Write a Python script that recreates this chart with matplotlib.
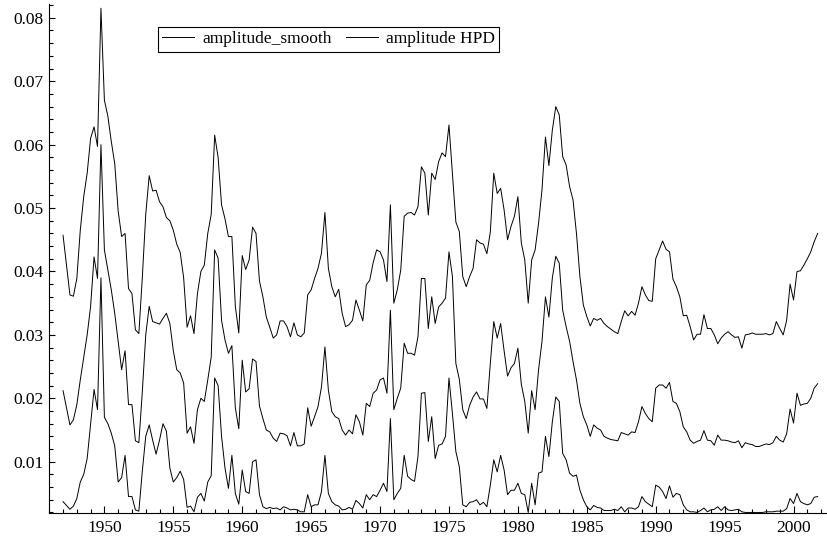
import matplotlib
matplotlib.use("Agg")
import matplotlib.pyplot as plt
from matplotlib.ticker import MultipleLocator, FormatStrFormatter
import numpy as np

plt.rcParams['font.family'] = ['Liberation Serif', 'DejaVu Serif']
plt.rcParams['font.size'] = 12.5

# quarterly series, 1947Q1 .. 2001Q4
start_year = 1947
per_year = 4

# upper HPD band
hpd_upper = [
    0.0457, 0.0410, 0.0363, 0.0361, 0.0389, 0.0465, 0.0518, 0.0555, 0.0610, 0.0628,
    0.0597, 0.0815, 0.0670, 0.0645, 0.0605, 0.0570, 0.0495, 0.0455, 0.0460, 0.0373,
    0.0365, 0.0308, 0.0302, 0.0390, 0.0490, 0.0551, 0.0527, 0.0528, 0.0510, 0.0502,
    0.0485, 0.0480, 0.0465, 0.0443, 0.0430, 0.0390, 0.0312, 0.0330, 0.0302, 0.0365,
    0.0400, 0.0410, 0.0460, 0.0490, 0.0615, 0.0580, 0.0505, 0.0483, 0.0455, 0.0455,
    0.0345, 0.0303, 0.0425, 0.0403, 0.0418, 0.0470, 0.0460, 0.0385, 0.0360, 0.0328,
    0.0312, 0.0295, 0.0300, 0.0322, 0.0322, 0.0313, 0.0297, 0.0319, 0.0300, 0.0297,
    0.0303, 0.0363, 0.0371, 0.0389, 0.0405, 0.0429, 0.0493, 0.0405, 0.0376, 0.0360,
    0.0372, 0.0334, 0.0313, 0.0316, 0.0323, 0.0355, 0.0339, 0.0322, 0.0379, 0.0386,
    0.0414, 0.0434, 0.0431, 0.0418, 0.0384, 0.0505, 0.0350, 0.0371, 0.0402, 0.0487,
    0.0492, 0.0493, 0.0489, 0.0502, 0.0565, 0.0555, 0.0489, 0.0555, 0.0545, 0.0573,
    0.0587, 0.0581, 0.0631, 0.0555, 0.0478, 0.0463, 0.0392, 0.0376, 0.0392, 0.0405,
    0.0450, 0.0445, 0.0443, 0.0428, 0.0462, 0.0555, 0.0523, 0.0531, 0.0497, 0.0450,
    0.0471, 0.0487, 0.0518, 0.0445, 0.0418, 0.0350, 0.0418, 0.0434, 0.0476, 0.0529,
    0.0612, 0.0567, 0.0623, 0.0660, 0.0647, 0.0581, 0.0568, 0.0534, 0.0513, 0.0460,
    0.0392, 0.0347, 0.0329, 0.0314, 0.0326, 0.0323, 0.0326, 0.0318, 0.0313, 0.0309,
    0.0305, 0.0302, 0.0321, 0.0338, 0.0330, 0.0337, 0.0331, 0.0350, 0.0376, 0.0363,
    0.0354, 0.0353, 0.0420, 0.0434, 0.0448, 0.0435, 0.0431, 0.0388, 0.0376, 0.0360,
    0.0330, 0.0331, 0.0313, 0.0292, 0.0301, 0.0301, 0.0332, 0.0310, 0.0310, 0.0300,
    0.0286, 0.0295, 0.0301, 0.0305, 0.0300, 0.0296, 0.0297, 0.0279, 0.0300, 0.0301,
    0.0303, 0.0301, 0.0301, 0.0301, 0.0302, 0.0300, 0.0302, 0.0321, 0.0310, 0.0300,
    0.0323, 0.0380, 0.0355, 0.0400, 0.0401, 0.0410, 0.0420, 0.0431, 0.0447, 0.0460,
]

# smoothed amplitude
amp_smooth = [
    0.0212, 0.0185, 0.0158, 0.0166, 0.0190, 0.0229, 0.0265, 0.0300, 0.0345, 0.0423,
    0.0389, 0.0600, 0.0434, 0.0402, 0.0371, 0.0334, 0.0290, 0.0245, 0.0275, 0.0190,
    0.0190, 0.0133, 0.0130, 0.0210, 0.0300, 0.0345, 0.0321, 0.0319, 0.0317, 0.0326,
    0.0334, 0.0318, 0.0275, 0.0245, 0.0240, 0.0224, 0.0145, 0.0155, 0.0129, 0.0182,
    0.0200, 0.0195, 0.0229, 0.0265, 0.0434, 0.0421, 0.0323, 0.0292, 0.0271, 0.0283,
    0.0185, 0.0152, 0.0260, 0.0210, 0.0215, 0.0262, 0.0258, 0.0188, 0.0168, 0.0150,
    0.0147, 0.0137, 0.0132, 0.0145, 0.0144, 0.0141, 0.0125, 0.0146, 0.0125, 0.0125,
    0.0128, 0.0185, 0.0156, 0.0171, 0.0187, 0.0218, 0.0281, 0.0213, 0.0179, 0.0171,
    0.0168, 0.0150, 0.0142, 0.0150, 0.0144, 0.0174, 0.0163, 0.0142, 0.0192, 0.0187,
    0.0208, 0.0213, 0.0229, 0.0232, 0.0208, 0.0339, 0.0182, 0.0200, 0.0216, 0.0287,
    0.0271, 0.0271, 0.0268, 0.0297, 0.0389, 0.0389, 0.0310, 0.0360, 0.0318, 0.0344,
    0.0350, 0.0358, 0.0431, 0.0392, 0.0255, 0.0230, 0.0182, 0.0168, 0.0189, 0.0202,
    0.0210, 0.0199, 0.0199, 0.0184, 0.0255, 0.0321, 0.0295, 0.0318, 0.0275, 0.0235,
    0.0248, 0.0255, 0.0279, 0.0222, 0.0195, 0.0145, 0.0212, 0.0182, 0.0245, 0.0290,
    0.0360, 0.0328, 0.0390, 0.0424, 0.0413, 0.0339, 0.0313, 0.0290, 0.0258, 0.0229,
    0.0192, 0.0171, 0.0158, 0.0140, 0.0158, 0.0153, 0.0150, 0.0140, 0.0137, 0.0135,
    0.0134, 0.0133, 0.0146, 0.0144, 0.0142, 0.0147, 0.0146, 0.0163, 0.0187, 0.0176,
    0.0168, 0.0163, 0.0216, 0.0221, 0.0221, 0.0216, 0.0225, 0.0195, 0.0192, 0.0179,
    0.0155, 0.0147, 0.0134, 0.0129, 0.0132, 0.0134, 0.0149, 0.0134, 0.0133, 0.0126,
    0.0142, 0.0134, 0.0134, 0.0133, 0.0131, 0.0130, 0.0133, 0.0122, 0.0130, 0.0128,
    0.0127, 0.0124, 0.0124, 0.0126, 0.0128, 0.0127, 0.0130, 0.0140, 0.0134, 0.0131,
    0.0144, 0.0183, 0.0161, 0.0208, 0.0189, 0.0191, 0.0192, 0.0200, 0.0216, 0.0223,
]

# lower HPD band
hpd_lower = [
    0.0037, 0.0031, 0.0025, 0.0030, 0.0042, 0.0068, 0.0080, 0.0105, 0.0160, 0.0214,
    0.0182, 0.0390, 0.0170, 0.0160, 0.0145, 0.0125, 0.0068, 0.0075, 0.0110, 0.0045,
    0.0045, 0.0024, 0.0022, 0.0085, 0.0140, 0.0158, 0.0134, 0.0112, 0.0134, 0.0160,
    0.0148, 0.0090, 0.0068, 0.0075, 0.0085, 0.0072, 0.0028, 0.0030, 0.0021, 0.0044,
    0.0050, 0.0038, 0.0068, 0.0078, 0.0232, 0.0220, 0.0140, 0.0090, 0.0058, 0.0110,
    0.0050, 0.0033, 0.0087, 0.0053, 0.0050, 0.0100, 0.0103, 0.0048, 0.0029, 0.0026,
    0.0028, 0.0026, 0.0027, 0.0024, 0.0029, 0.0027, 0.0024, 0.0025, 0.0024, 0.0021,
    0.0021, 0.0048, 0.0029, 0.0032, 0.0032, 0.0053, 0.0110, 0.0050, 0.0037, 0.0032,
    0.0030, 0.0024, 0.0025, 0.0028, 0.0025, 0.0039, 0.0034, 0.0027, 0.0048, 0.0040,
    0.0048, 0.0045, 0.0055, 0.0066, 0.0053, 0.0168, 0.0040, 0.0050, 0.0058, 0.0110,
    0.0077, 0.0072, 0.0069, 0.0108, 0.0208, 0.0209, 0.0132, 0.0171, 0.0105, 0.0126,
    0.0128, 0.0140, 0.0232, 0.0176, 0.0116, 0.0092, 0.0032, 0.0029, 0.0036, 0.0037,
    0.0040, 0.0032, 0.0036, 0.0029, 0.0063, 0.0103, 0.0084, 0.0110, 0.0087, 0.0048,
    0.0055, 0.0055, 0.0066, 0.0050, 0.0048, 0.0020, 0.0066, 0.0032, 0.0082, 0.0084,
    0.0140, 0.0108, 0.0163, 0.0202, 0.0195, 0.0113, 0.0103, 0.0082, 0.0077, 0.0079,
    0.0055, 0.0040, 0.0029, 0.0024, 0.0031, 0.0028, 0.0027, 0.0023, 0.0023, 0.0023,
    0.0025, 0.0023, 0.0029, 0.0021, 0.0027, 0.0027, 0.0025, 0.0029, 0.0045, 0.0037,
    0.0033, 0.0029, 0.0063, 0.0060, 0.0053, 0.0042, 0.0062, 0.0044, 0.0050, 0.0048,
    0.0032, 0.0024, 0.0021, 0.0021, 0.0020, 0.0023, 0.0027, 0.0021, 0.0024, 0.0025,
    0.0029, 0.0023, 0.0029, 0.0024, 0.0023, 0.0024, 0.0025, 0.0021, 0.0020, 0.0020,
    0.0020, 0.0020, 0.0020, 0.0020, 0.0021, 0.0021, 0.0021, 0.0022, 0.0022, 0.0022,
    0.0026, 0.0042, 0.0034, 0.0050, 0.0037, 0.0034, 0.0032, 0.0034, 0.0044, 0.0045,
]

n = len(amp_smooth)
t = start_year + np.arange(n) / per_year

fig = plt.figure(figsize=(8.28, 5.39), dpi=100)
ax = fig.add_axes([0.0595, 0.0488, 0.9405, 0.9429])

ax.plot(t, amp_smooth, color='black', lw=0.7, label='amplitude_smooth')
ax.plot(t, hpd_upper, color='black', lw=0.7, label='amplitude HPD')
ax.plot(t, hpd_lower, color='black', lw=0.7)

ax.set_xlim(1946.0, 2002.5)
ax.set_ylim(0.00196, 0.0821)

ax.xaxis.set_major_locator(MultipleLocator(5))
ax.xaxis.set_minor_locator(MultipleLocator(1))
ax.yaxis.set_major_locator(MultipleLocator(0.01))
ax.yaxis.set_minor_locator(MultipleLocator(0.002))
ax.yaxis.set_major_formatter(FormatStrFormatter('%.2f'))

ax.spines['top'].set_visible(False)
ax.spines['right'].set_visible(False)
for s in ('left', 'bottom'):
    ax.spines[s].set_linewidth(0.8)

ax.tick_params(which='both', direction='in', top=False, right=False, width=0.8, color='black')
ax.tick_params(axis='x', which='major', length=5.4, pad=5)
ax.tick_params(axis='x', which='minor', length=2.6)
ax.tick_params(axis='y', which='major', length=4.3, pad=4)
ax.tick_params(axis='y', which='minor', length=2.9)

leg = ax.legend(loc='upper left', bbox_to_anchor=(0.1396, 0.9557), borderaxespad=0,
                ncol=2, frameon=True, fancybox=False, framealpha=1,
                handlelength=1.85, handletextpad=0.45, columnspacing=0.8,
                borderpad=0.25, edgecolor='black')
leg.get_frame().set_linewidth(0.8)

fig.savefig('out.png', dpi=100)
